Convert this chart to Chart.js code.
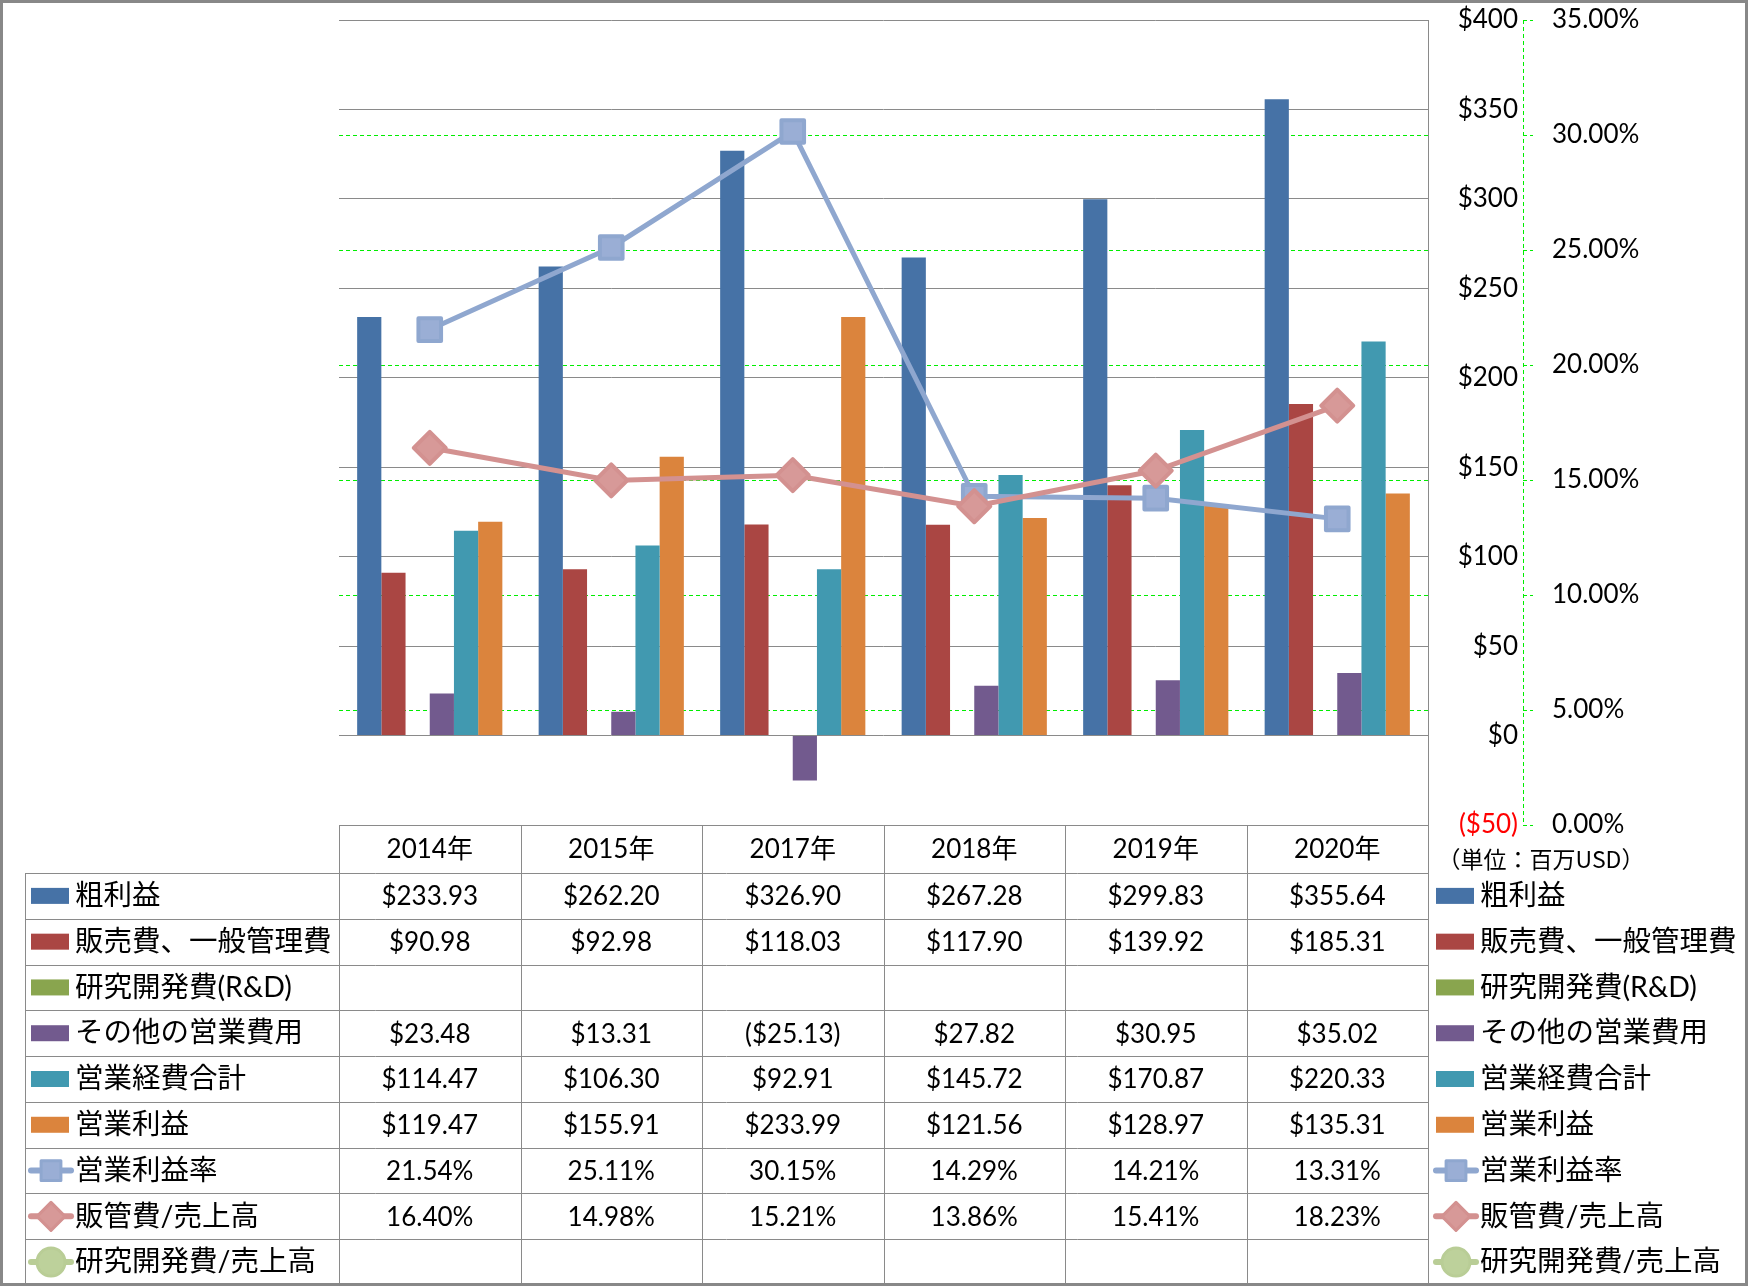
<!DOCTYPE html>
<html>
<head>
<meta charset="utf-8">
<script src="https://cdn.jsdelivr.net/npm/chart.js@4.4.0/dist/chart.umd.min.js"></script>
<style>
  body { margin: 0; background: #fff; }
  canvas { display: block; }
</style>
</head>
<body>
<canvas id="chart" width="1748" height="1286"></canvas>
<script>
const years = ['2014年', '2015年', '2017年', '2018年', '2019年', '2020年'];
const grossProfit = [233.93, 262.20, 326.90, 267.28, 299.83, 355.64];
const sgaExpense = [90.98, 92.98, 118.03, 117.90, 139.92, 185.31];
const rndExpense = [null, null, null, null, null, null];
const otherOpex = [23.48, 13.31, -25.13, 27.82, 30.95, 35.02];
const totalOpex = [114.47, 106.30, 92.91, 145.72, 170.87, 220.33];
const opIncome = [119.47, 155.91, 233.99, 121.56, 128.97, 135.31];
const opMargin = [21.54, 25.11, 30.15, 14.29, 14.21, 13.31];
const sgaRatio = [16.40, 14.98, 15.21, 13.86, 15.41, 18.23];
const rndRatio = [null, null, null, null, null, null];

// axis ranges
const dollarMin = -50, dollarMax = 400, dollarStep = 50;
const pctMin = 0, pctMax = 35, pctStep = 5;

const FONT = 'Lato, "Noto Sans CJK JP", sans-serif';
const JP_FONT = '"Noto Sans CJK JP", sans-serif';

const money = v => v == null ? '' : (v < 0 ? '($' + (-v).toFixed(2) + ')' : '$' + v.toFixed(2));
const pct = v => v == null ? '' : v.toFixed(2) + '%';

function barSet(label, data, color) {
  return {
    type: 'bar', label, data, backgroundColor: color, borderWidth: 0,
    yAxisID: 'y', order: 10, categoryPercentage: 0.8, barPercentage: 1.0,
    fmt: money
  };
}
function lineSet(label, data, color, fill, style, order) {
  return {
    type: 'line', label, data, borderColor: color, borderWidth: 5, tension: 0,
    pointStyle: style, pointRadius: 16, pointHoverRadius: 16,
    pointBackgroundColor: fill, pointBorderColor: color, pointBorderWidth: 4,
    yAxisID: 'y1', order, fmt: pct
  };
}

const datasets = [
  barSet('粗利益', grossProfit, '#4672A6'),
  barSet('販売費、一般管理費', sgaExpense, '#AA4643'),
  barSet('研究開発費(R&D)', rndExpense, '#89A54E'),
  barSet('その他の営業費用', otherOpex, '#725A8E'),
  barSet('営業経費合計', totalOpex, '#4199B0'),
  barSet('営業利益', opIncome, '#DB843D'),
  lineSet('営業利益率', opMargin, '#8FA7CF', '#9AAED5', 'rect', 2),
  lineSet('販管費/売上高', sgaRatio, '#D39190', '#D79998', 'rectRot', 1),
  lineSet('研究開発費/売上高', rndRatio, '#B9CD96', '#BDD19B', 'circle', 3)
];

const noOverflow = s => { s.paddingTop = 0; s.paddingBottom = 0; };

const tablePlugin = {
  id: 'dataTable',
  // pull the $ labels a little off the green % axis line
  afterLayout(chart) { chart.scales.y.right -= 5; },
  beforeDatasetsDraw(chart) { chart.ctx.lineJoin = 'round'; },
  afterDatasetsDraw(chart) { chart.ctx.lineJoin = 'miter'; },
  afterDraw(chart) {
    const { ctx, chartArea: a, scales } = chart;
    const colW = (a.right - a.left) / years.length;
    const headTop = a.bottom, headBot = a.bottom + 48;
    const tableBot = 1285;
    const rows = chart.data.datasets;
    const rowH = (tableBot - headBot) / rows.length;
    const legLeft = 25;
    ctx.save();

    // dashed green % axis line
    const y1 = scales.y1;
    ctx.strokeStyle = '#00ee00';
    ctx.lineWidth = 1;
    ctx.setLineDash([4, 3]);
    ctx.beginPath();
    ctx.moveTo(Math.round(y1.left) + 0.5, y1.top);
    ctx.lineTo(Math.round(y1.left) + 0.5, y1.bottom);
    ctx.stroke();
    ctx.setLineDash([]);

    // table grid
    ctx.strokeStyle = '#8a8a8a';
    ctx.beginPath();
    for (let i = 0; i <= years.length; i++) {
      const x = Math.round(a.left + i * colW) + 0.5;
      ctx.moveTo(x, headTop);
      ctx.lineTo(x, tableBot);
    }
    ctx.moveTo(legLeft + 0.5, headBot);
    ctx.lineTo(legLeft + 0.5, tableBot);
    ctx.moveTo(a.left, Math.round(headTop) + 0.5);
    ctx.lineTo(a.right, Math.round(headTop) + 0.5);
    for (let r = 0; r < rows.length; r++) {
      const y = Math.round(headBot + r * rowH) + 0.5;
      ctx.moveTo(legLeft, y);
      ctx.lineTo(a.right, y);
    }
    ctx.stroke();

    // header + cells
    ctx.fillStyle = '#000';
    ctx.textAlign = 'center';
    ctx.textBaseline = 'middle';
    ctx.font = '26px ' + FONT;
    years.forEach((yr, i) => {
      const cx = scales.x.getPixelForValue(i);
      ctx.fillText(yr, cx, (headTop + headBot) / 2 + 1);
    });
    rows.forEach((ds, r) => {
      const cy = headBot + (r + 0.5) * rowH + 1;
      ds.data.forEach((v, i) => {
        ctx.fillText(ds.fmt(v), scales.x.getPixelForValue(i), cy);
      });
    });

    // legends (left inside table, right beside it)
    const drawKey = (ds, x, cy) => {
      if (ds.type === 'bar') {
        ctx.fillStyle = ds.backgroundColor;
        ctx.fillRect(x, cy - 8, 38, 16);
      } else {
        ctx.strokeStyle = ds.borderColor;
        ctx.lineWidth = 6;
        ctx.lineCap = 'round';
        ctx.beginPath();
        ctx.moveTo(x, cy);
        ctx.lineTo(x + 40, cy);
        ctx.stroke();
        ctx.lineCap = 'butt';
        ctx.lineJoin = 'round';
        ctx.fillStyle = ds.pointBackgroundColor;
        ctx.strokeStyle = ds.pointBorderColor;
        ctx.lineWidth = 3;
        Chart.helpers.drawPoint(ctx, { pointStyle: ds.pointStyle, radius: 14, rotation: 0, borderWidth: 3 }, x + 20, cy);
        ctx.lineJoin = 'miter';
      }
      ctx.fillStyle = '#000';
      ctx.textAlign = 'left';
      ctx.font = '28.5px ' + FONT;
      ctx.fillText(ds.label, x + 44, cy);
    };
    rows.forEach((ds, r) => {
      const cy = headBot + (r + 0.5) * rowH;
      drawKey(ds, 31, cy);
      drawKey(ds, a.right + 8, cy);
    });

    // unit note
    ctx.fillStyle = '#000';
    ctx.textAlign = 'center';
    ctx.font = '23px ' + JP_FONT;
    ctx.fillText('（単位：百万USD）', 1541, 859);

    // outer frame
    ctx.strokeStyle = '#888';
    ctx.lineWidth = 3;
    ctx.strokeRect(1.5, 1.5, 1745, 1283);
    ctx.restore();
  }
};

new Chart(document.getElementById('chart'), {
  type: 'bar',
  data: { labels: years, datasets },
  options: {
    responsive: false,
    animation: false,
    layout: { padding: { left: 339, top: 19, right: 85, bottom: 461 } },
    plugins: { legend: { display: false }, tooltip: { enabled: false } },
    scales: {
      x: { type: 'category', display: false, offset: true },
      y: {
        position: 'right',
        min: dollarMin, max: dollarMax,
        afterFit: s => { s.width = 95; noOverflow(s); },
        ticks: {
          stepSize: dollarStep,
          crossAlign: 'far',
          padding: 20,
          font: { family: FONT, size: 26 },
          color: c => c.tick.value < 0 ? '#ff0000' : '#000',
          callback: v => v < 0 ? '($' + (-v) + ')' : '$' + v
        },
        grid: { color: '#8a8a8a', lineWidth: 1, drawTicks: false },
        border: { display: true, color: '#8a8a8a', width: 1 }
      },
      y1: {
        position: 'right',
        min: pctMin, max: pctMax,
        afterFit: s => { s.width = 140; noOverflow(s); },
        ticks: {
          stepSize: pctStep,
          padding: 19,
          font: { family: FONT, size: 26 },
          color: '#000',
          callback: v => v.toFixed(2) + '%'
        },
        grid: {
          color: c => (c.tick.value === pctMin || c.tick.value === pctMax) ? 'rgba(0,0,0,0)' : '#00ee00',
          tickColor: '#00ee00',
          tickLength: 10,
          tickBorderDash: [4, 3],
          lineWidth: 1
        },
        border: { display: false, dash: [4, 3] }
      }
    }
  },
  plugins: [tablePlugin]
});
</script>
</body>
</html>
